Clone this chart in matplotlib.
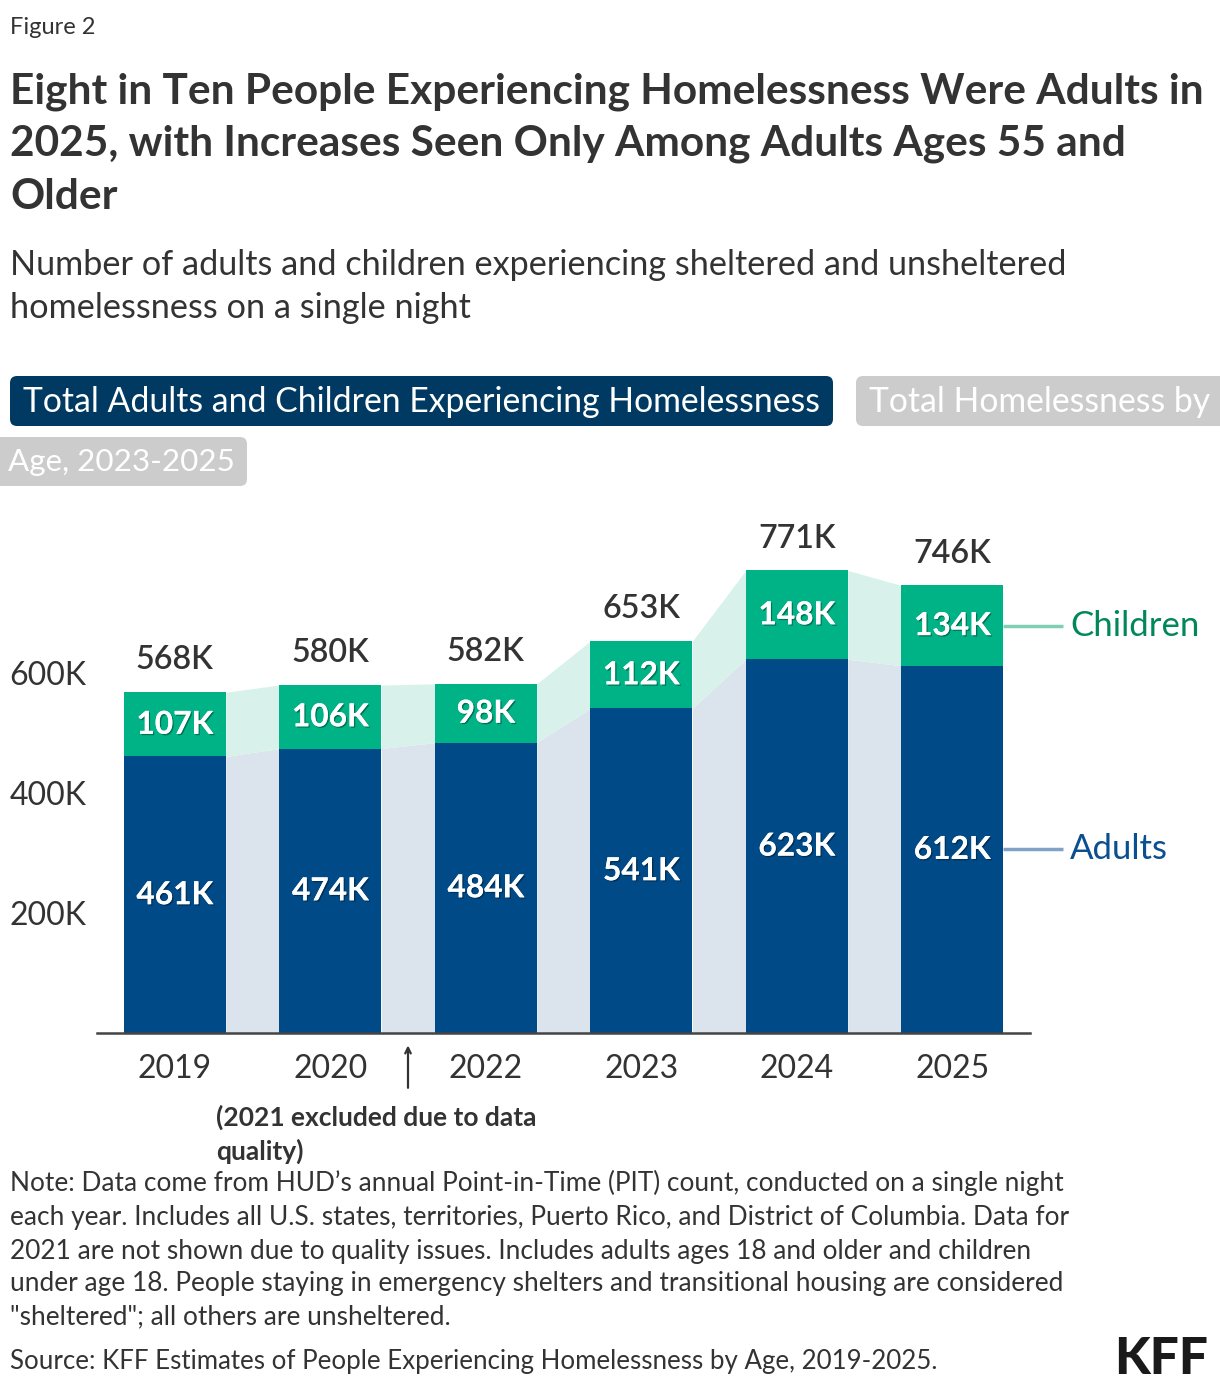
import matplotlib
matplotlib.use("Agg")
import matplotlib.pyplot as plt
import matplotlib.patheffects as pe
from matplotlib.patches import FancyBboxPatch
import numpy as np

# data (thousands)
years = ['2019', '2020', '2022', '2023', '2024', '2025']
adults = [461, 474, 484, 541, 623, 612]
children = [107, 106, 98, 112, 148, 134]
yticks = [200, 400, 600]
ytick_labels = ['200K', '400K', '600K']

ADULT = '#004a87'
CHILD = '#00b386'
ADULT_FILL = '#dbe3ec'
CHILD_FILL = '#d8f2eb'
DARK = '#333333'
NAVY = '#003a63'
GRAY = '#cccccc'

plt.rcParams['font.family'] = ['Lato', 'DejaVu Sans']

W, H = 1220, 1388
fig = plt.figure(figsize=(W / 100, H / 100), dpi=100)


def fx(x):
    return x / W


def fy(y):
    return 1 - y / H


def lines(x, ys, texts, **kw):
    for y, t in zip(ys, texts):
        fig.text(fx(x), fy(y), t, va='center', ha='left', **kw)


# header text
lines(10, [27], ['Figure 2'], fontsize=17, color=DARK)
lines(10, [92, 144, 197],
      ['Eight in Ten People Experiencing Homelessness Were Adults in',
       '2025, with Increases Seen Only Among Adults Ages 55 and',
       'Older'], fontsize=30.5, fontweight='bold', color=DARK)
lines(10, [265, 308],
      ['Number of adults and children experiencing sheltered and unsheltered',
       'homelessness on a single night'], fontsize=24.7, color=DARK)


# toggle buttons
def button(x0, y0, x1, y1, color):
    box = FancyBboxPatch((x0 / 100, (H - y1) / 100), (x1 - x0) / 100, (y1 - y0) / 100,
                         boxstyle='round,pad=0,rounding_size=0.07',
                         transform=fig.dpi_scale_trans, facecolor=color,
                         edgecolor='none')
    fig.patches.append(box)


button(10, 376, 833, 426, NAVY)
button(856, 376, 1240, 426, GRAY)
button(-20, 437, 247, 486, GRAY)
lines(23, [402], ['Total Adults and Children Experiencing Homelessness'],
      fontsize=24.3, color='white')
lines(869, [402], ['Total Homelessness by'], fontsize=24.3, color='white')
lines(8, [462], ['Age, 2023-2025'], fontsize=22.6, color='white')

# chart
ax = fig.add_axes([fx(97), fy(1033), fx(1030) - fx(97), 480 / H])
x = np.arange(len(years))
a = np.array(adults)
c = np.array(children)
tot = a + c
w = 0.656

for i in range(len(x) - 1):
    xs = [x[i] + w / 2, x[i + 1] - w / 2]
    ax.fill_between(xs, [0, 0], [a[i], a[i + 1]], color=ADULT_FILL, lw=0)
    ax.fill_between(xs, [a[i], a[i + 1]], [tot[i], tot[i + 1]], color=CHILD_FILL, lw=0)

ax.bar(x, a, width=w, color=ADULT, lw=0)
ax.bar(x, c, width=w, bottom=a, color=CHILD, lw=0)

shadow = [pe.withSimplePatchShadow(offset=(1, -1), shadow_rgbFace='black', alpha=0.35),
          pe.Normal()]
for i in range(len(x)):
    ax.text(x[i], a[i] / 2, f'{a[i]}K', ha='center', va='center', color='white',
            fontsize=22.8, fontweight='bold', path_effects=shadow)
    ax.text(x[i], a[i] + c[i] / 2, f'{c[i]}K', ha='center', va='center', color='white',
            fontsize=22.8, fontweight='bold', path_effects=shadow)
    ax.text(x[i], tot[i] + 53, f'{tot[i]}K', ha='center', va='center', color=DARK,
            fontsize=23.2, fontweight='semibold')

ax.set_xlim(-0.5, 5.5)
ax.set_ylim(0, 800)
ax.set_xticks(x)
ax.set_xticklabels(years, fontsize=23, color=DARK)
ax.set_yticks(yticks)
ax.set_yticklabels(ytick_labels, fontsize=23, color=DARK)
ax.tick_params(length=0)
ax.tick_params(axis='x', pad=15)
ax.tick_params(axis='y', pad=7.5)
for s in ['top', 'right', 'left']:
    ax.spines[s].set_visible(False)
ax.spines['bottom'].set_color('#444444')
ax.spines['bottom'].set_linewidth(1.8)
ax.set_facecolor('none')

# series labels on right
last = len(x) - 1
for yv, col, lcol, name in [(a[last] + c[last] / 2, '#00875a', '#80cfb2', 'Children'),
                            (a[last] / 2, '#0a4f8f', '#7fa2c6', 'Adults')]:
    ax.plot([x[last] + w / 2, x[last] + w / 2 + 0.385], [yv, yv], color=lcol, lw=2.5,
            clip_on=False, solid_capstyle='butt')
    ax.text(x[last] + w / 2 + 0.43, yv, name, color=col, fontsize=25, va='center',
            ha='left')

# excluded year marker
ax.annotate('', xy=(1.5, -0.02), xytext=(1.5, -0.12),
            xycoords=('data', 'axes fraction'), textcoords=('data', 'axes fraction'),
            arrowprops=dict(arrowstyle='->', color=DARK, lw=1.6))
lines(216, [1117, 1151], ['(2021 excluded due to data', 'quality)'], fontsize=19,
      fontweight='bold', color=DARK)

# notes
lines(10, [1183, 1217, 1251, 1284, 1317],
      ['Note: Data come from HUD\u2019s annual Point-in-Time (PIT) count, conducted on a single night',
       'each year. Includes all U.S. states, territories, Puerto Rico, and District of Columbia. Data for',
       '2021 are not shown due to quality issues. Includes adults ages 18 and older and children',
       'under age 18. People staying in emergency shelters and transitional housing are considered',
       '"sheltered"; all others are unsheltered.'], fontsize=18.9, color=DARK)
lines(10, [1361], ['Source: KFF Estimates of People Experiencing Homelessness by Age, 2019-2025.'],
      fontsize=18.6, color=DARK)
fig.text(fx(1208), fy(1360), 'KFF', fontsize=37, fontweight='black', color='#1a1a1a',
         ha='right', va='center')

fig.savefig('out.png', dpi=100, facecolor='white')
